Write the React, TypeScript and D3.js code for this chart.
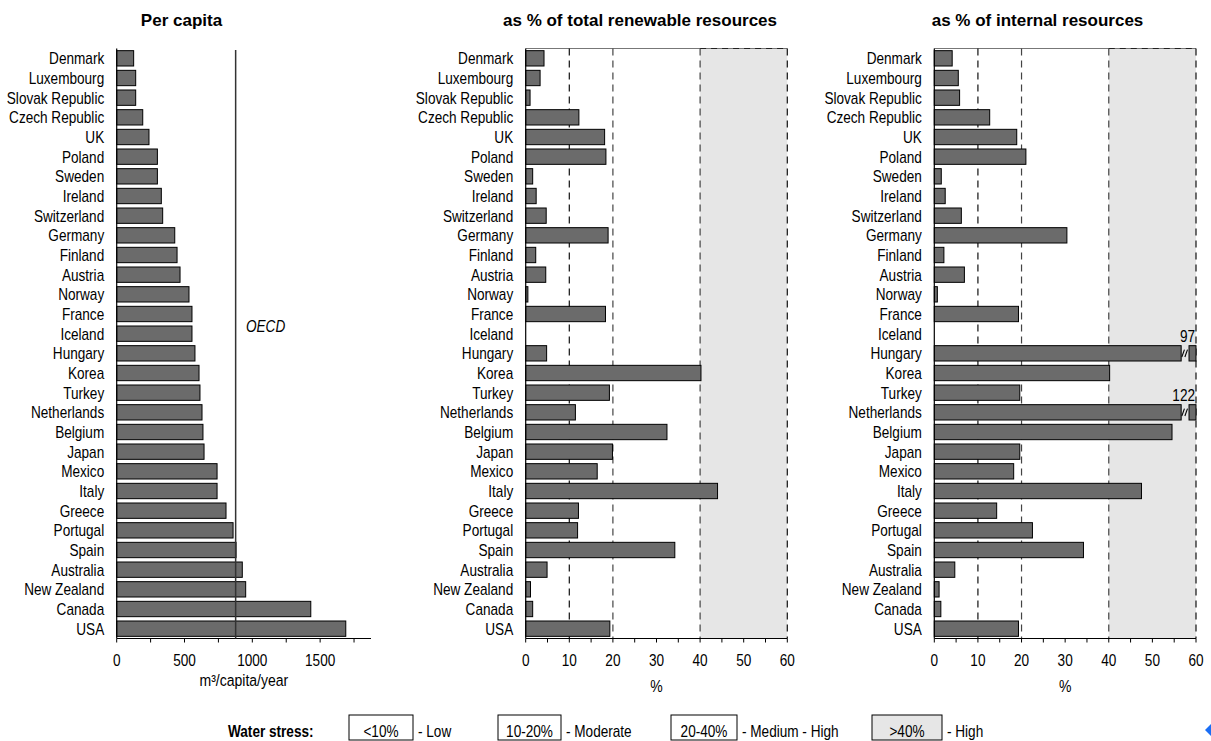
import React from "react";
import * as d3 from "d3";

const countries = [
  "Denmark", "Luxembourg", "Slovak Republic", "Czech Republic", "UK", "Poland",
  "Sweden", "Ireland", "Switzerland", "Germany", "Finland", "Austria", "Norway",
  "France", "Iceland", "Hungary", "Korea", "Turkey", "Netherlands", "Belgium",
  "Japan", "Mexico", "Italy", "Greece", "Portugal", "Spain", "Australia",
  "New Zealand", "Canada", "USA",
];
const perCapita = [
  125, 140, 140, 192, 238, 300, 300, 329, 339, 428, 445, 467, 533, 555, 555,
  577, 607, 614, 629, 636, 644, 740, 740, 806, 858, 880, 926, 951, 1431, 1689,
];
const pctTotal = [
  4.2, 3.3, 1.0, 12.2, 18.1, 18.4, 1.6, 2.4, 4.7, 18.9, 2.3, 4.6, 0.5, 18.3, 0,
  4.8, 40.2, 19.2, 11.4, 32.4, 19.9, 16.4, 44.0, 12.1, 11.9, 34.2, 4.9, 1.1, 1.6, 19.3,
];
const pctInternal = [
  4.1, 5.5, 5.8, 12.7, 18.9, 21.0, 1.6, 2.5, 6.2, 30.4, 2.2, 6.9, 0.7, 19.3, 0,
  97, 40.2, 19.6, 122, 54.5, 19.6, 18.2, 47.5, 14.3, 22.5, 34.2, 4.7, 1.1, 1.5, 19.3,
];
const oecdPerCapita = 877;
const perCapitaTicks = [0, 500, 1000, 1500];
const pctTicks = [0, 10, 20, 30, 40, 50, 60];
const stressLines = [10, 20, 40, 60];
const titles = ["Per capita", "as % of total renewable resources", "as % of internal resources"];
const axisTitles = ["m³/capita/year", "%", "%"];
const legendBoxes = ["<10%", "10-20%", "20-40%", ">40%"];
const legendLabels = ["- Low", "- Moderate", "- Medium - High", "- High"];

const FONT = "'Liberation Sans', Arial, sans-serif";
const BAR_FILL = "#6b6b6b";
const NARROW = 0.85;

const yScale = d3.scaleBand<string>().domain(countries).range([48.5, 638.5]).paddingInner(0.22).paddingOuter(0.11);
const AXIS_Y = 638.5;

function T({ x, y, anchor, size, weight, italic, children }: any) {
  return (
    <text
      transform={`translate(${x},${y}) scale(${NARROW},1)`}
      textAnchor={anchor || "start"}
      fontSize={size || 16}
      fontWeight={weight || "normal"}
      fontStyle={italic ? "italic" : "normal"}
    >
      {children}
    </text>
  );
}

function Panel({ values, x, ticks, minorStep, maxTick, pct, title, axisTitle, titleX, axisTitleY }: any) {
  const [x0, x1] = x.range();
  const minor = d3.range(0, maxTick + 0.001, minorStep);
  const top = 48.5;
  return (
    <g>
      <text x={titleX} y={26} textAnchor="middle" fontWeight="bold" fontSize={17}>{title}</text>
      {pct && (
        <g>
          <rect x={x(40)} y={top} width={x(60) - x(40)} height={AXIS_Y - top} fill="#e6e6e6" />
          <line x1={x0} x2={x(60)} y1={top} y2={top} stroke="#777" strokeWidth={1} />
          <line x1={x(40)} x2={x(60)} y1={top} y2={top} stroke="#222" strokeWidth={1} strokeDasharray="6,5" />
          {stressLines.map((s) => (
            <line key={s} x1={x(s)} x2={x(s)} y1={top} y2={AXIS_Y} stroke={s === 10 || s === 60 ? "#111" : "#444"} strokeWidth={1.2} strokeDasharray="7,5" />
          ))}
        </g>
      )}
      {countries.map((c, i) => {
        const v = values[i];
        const yb = yScale(c)!;
        const h = yScale.bandwidth();
        const broken = pct && v > 60;
        const w = x(pct ? Math.min(v, 60) : v) - x0;
        return (
          <g key={c}>
            {v > 0 && !broken && (
              <rect x={x0} y={yb} width={w} height={h} fill={BAR_FILL} stroke="#000" strokeWidth={1} />
            )}
            {broken && (
              <g>
                <rect x={x0} y={yb} width={x(56.6) - x0} height={h} fill={BAR_FILL} stroke="#000" strokeWidth={1} />
                <rect x={x(58.4)} y={yb} width={x(60) - x(58.4)} height={h} fill={BAR_FILL} stroke="#000" strokeWidth={1} />
                <line x1={x(56.75)} y1={yb + h - 4} x2={x(57.35)} y2={yb + 4} stroke="#000" strokeWidth={1.1} />
                <line x1={x(57.45)} y1={yb + h - 4} x2={x(58.05)} y2={yb + 4} stroke="#000" strokeWidth={1.1} />
                <T x={x(60) - 1} y={yb - 3.5} anchor="end">{v}</T>
              </g>
            )}
            <T x={x0 - 12.5} y={yb + h / 2 + 6} anchor="end">{c}</T>
          </g>
        );
      })}
      <line x1={x0} x2={x0} y1={top} y2={AXIS_Y} stroke="#000" strokeWidth={1.2} />
      <line x1={x0} x2={x1} y1={AXIS_Y} y2={AXIS_Y} stroke="#000" strokeWidth={1.2} />
      {minor.map((t: number) => (
        <line key={t} x1={x(t)} x2={x(t)} y1={AXIS_Y} y2={AXIS_Y + 4} stroke="#000" strokeWidth={1} />
      ))}
      {ticks.map((t: number) => (
        <T key={t} x={x(t)} y={666} anchor="middle">{t}</T>
      ))}
      <T x={(x0 + x(pct ? 60 : 1875)) / 2} y={axisTitleY} anchor="middle" size={16.5}>{axisTitle}</T>
    </g>
  );
}

export default function App() {
  const xPer = d3.scaleLinear().domain([0, 1875]).range([116.7, 371]);
  const xTot = d3.scaleLinear().domain([0, 60]).range([525.7, 787.3]);
  const xInt = d3.scaleLinear().domain([0, 60]).range([934.3, 1196]);

  const boxX = [349, 498, 671, 872];
  const boxW = [64, 63, 66, 70];

  return (
    <svg width={1211} height={741} style={{ position: "absolute", left: 0, top: 0, display: "block" }} fontFamily={FONT}>
      <rect width={1211} height={741} fill="#fff" />
      <Panel values={perCapita} x={xPer} ticks={perCapitaTicks} minorStep={250} maxTick={1750} pct={false}
        title={titles[0]} axisTitle={axisTitles[0]} titleX={181.5} axisTitleY={686} />
      <line x1={xPer(oecdPerCapita)} x2={xPer(oecdPerCapita)} y1={50} y2={AXIS_Y} stroke="#333" strokeWidth={1.5} />
      <T x={246} y={332} italic>OECD</T>
      <Panel values={pctTotal} x={xTot} ticks={pctTicks} minorStep={5} maxTick={60} pct={true}
        title={titles[1]} axisTitle={axisTitles[1]} titleX={640} axisTitleY={692} />
      <Panel values={pctInternal} x={xInt} ticks={pctTicks} minorStep={5} maxTick={60} pct={true}
        title={titles[2]} axisTitle={axisTitles[2]} titleX={1037.5} axisTitleY={692} />

      <T x={228} y={737} weight="bold">Water stress:</T>
      {legendBoxes.map((b, i) => (
        <g key={b}>
          <rect x={boxX[i]} y={715} width={boxW[i]} height={25} fill={i === 3 ? "#e6e6e6" : "#fff"} stroke="#000" strokeWidth={1} />
          <T x={boxX[i] + boxW[i] / 2} y={737} anchor="middle">{b}</T>
          <T x={boxX[i] + boxW[i] + 5} y={737}>{legendLabels[i]}</T>
        </g>
      ))}
      <polygon points="1211,724 1217,730 1211,736 1205,730" fill="#1a6ef5" />
    </svg>
  );
}
